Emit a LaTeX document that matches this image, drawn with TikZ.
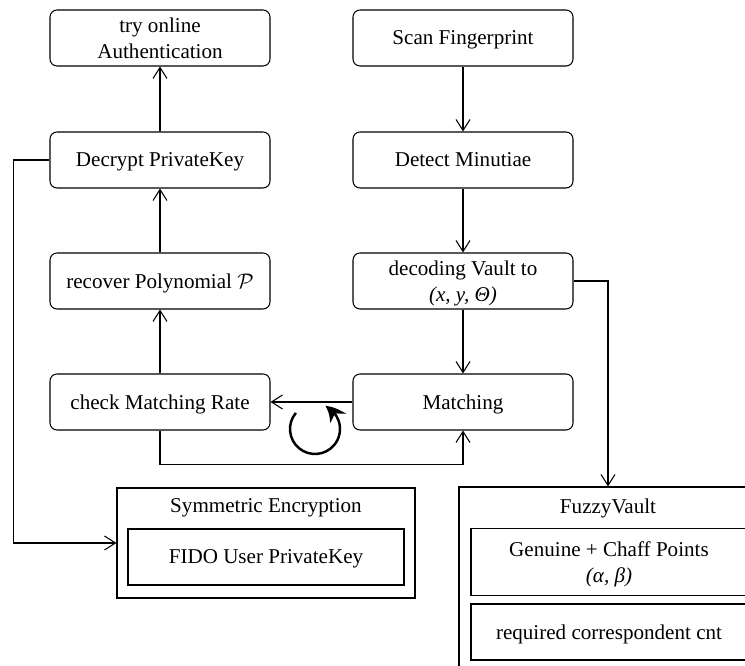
\documentclass[tikz,border=0pt]{standalone}
\usepackage{fontspec}
\setmainfont{Liberation Serif}
\usepackage{amsmath, amssymb}
\usetikzlibrary{arrows.meta,bending}

\begin{document}
\begin{tikzpicture}
	[
	scale=1, every node/.style={scale=1, font=\fontsize{12}{14.5}\selectfont},
  > = {Straight Barb[length=2.2mm,width=2.8mm]},
  line width=0.6pt,
  stepbox/.style = {draw,rounded corners=4pt,minimum width=4.4cm,minimum height=1.12cm,align=center,text depth=0pt},
  frame/.style = {draw,minimum width=5.96cm,inner sep=0pt},
  innerbox/.style = {draw,minimum width=5.52cm,align=center,text depth=0pt}
  ]
	\useasboundingbox (0,0) rectangle (14.9,13.32);
	\clip (0,0) rectangle (14.9,13.32);

	\node[stepbox] (tryauth) at (3.20,12.56) {try online\\Authentication};
	\node[stepbox] (decrypt) at (3.20,10.12) {Decrypt PrivateKey};
	\node[stepbox] (recover) at (3.20,7.70) {recover Polynomial $\mathcal{P}$};
	\node[stepbox] (check) at (3.20,5.28) {check Matching Rate};
	\node[stepbox] (scan) at (9.26,12.56) {Scan Fingerprint};
	\node[stepbox] (detect) at (9.26,10.12) {Detect Minutiae};
	\node[stepbox] (decode) at (9.26,7.70) {decoding Vault to\\\textit{(x, y, Θ)}};
	\node[stepbox] (matching) at (9.26,5.28) {Matching};

	% key storage
	\node[frame, minimum height=2.2cm] (symenc) at (5.32,2.46) {};
	\node (symtitle) at (5.32,3.16) {Symmetric Encryption};
	\node[innerbox, minimum height=1.12cm] (fido) at (5.32,2.18) {FIDO User PrivateKey};

	% vault
	\node[frame, minimum height=4.06cm] (fuzzy) at (12.16,1.55) {};
	\node (fuzzytitle) at (12.16,3.16) {FuzzyVault};
	\node[innerbox, minimum height=1.34cm] (genuine) at (12.18,2.08) {Genuine + Chaff Points\\\textit{(α, β)}};
	\node[innerbox, minimum height=1.12cm] (required) at (12.18,0.68) {required correspondent cnt};

	\draw[->] (scan) -- (detect);
	\draw[->] (detect) -- (decode);
	\draw[->] (decode) -- (matching);
	\draw[->] (matching) -- (check);
	\draw[->] (check) -- (recover);
	\draw[->] (recover) -- (decrypt);
	\draw[->] (decrypt) -- (tryauth);

	\draw[->] (check.south) -- ++(0,-0.68) -| (matching.south);
	\draw[->] (decrypt.west) -- ++(-0.72,0) |- (symenc.west);
	\draw[->] (decode.east) -| (fuzzy.north);

	\coordinate (spin) at (6.30,4.74);
	\draw[line width=1.4pt, -{Stealth[length=3.6mm,width=3.6mm,bend]}] (spin) ++(140:0.50) arc[start angle=140, end angle=426, radius=0.50];

\end{tikzpicture}
\end{document}
